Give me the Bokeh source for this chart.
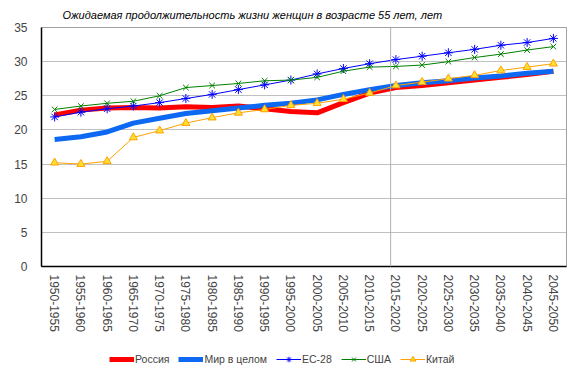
from bokeh.plotting import figure
from bokeh.layouts import column
from bokeh.models import Legend, LegendItem, Span, FixedTicker, Range1d
from bokeh.embed import file_html
from bokeh.resources import INLINE

periods = ["1950-1955", "1955-1960", "1960-1965", "1965-1970", "1970-1975",
           "1975-1980", "1980-1985", "1985-1990", "1990-1995", "1995-2000",
           "2000-2005", "2005-2010", "2010-2015", "2015-2020", "2020-2025",
           "2025-2030", "2030-2035", "2035-2040", "2040-2045", "2045-2050"]
russia = [22.2, 22.9, 23.2, 23.3, 23.2, 23.4, 23.3, 23.5, 23.1, 22.7,
          22.5, 24.0, 25.4, 26.2, 26.5, 26.9, 27.3, 27.7, 28.1, 28.6]
world = [18.6, 19.0, 19.7, 21.0, 21.7, 22.4, 22.8, 23.2, 23.6, 23.9,
         24.4, 25.2, 25.9, 26.5, 26.9, 27.2, 27.6, 27.9, 28.3, 28.6]
eu28 = [21.9, 22.6, 23.1, 23.5, 24.0, 24.6, 25.2, 25.9, 26.6, 27.3,
        28.2, 29.0, 29.7, 30.3, 30.8, 31.3, 31.8, 32.4, 32.8, 33.4]
usa = [23.0, 23.5, 23.9, 24.2, 25.0, 26.2, 26.5, 26.8, 27.2, 27.3,
       27.7, 28.6, 29.2, 29.3, 29.5, 30.0, 30.6, 31.1, 31.7, 32.2]
china = [15.2, 15.0, 15.4, 18.9, 19.9, 21.0, 21.8, 22.5, 23.0, 23.6,
         23.9, 24.5, 25.4, 26.5, 27.0, 27.5, 28.0, 28.7, 29.2, 29.7]
y_ticks = [0, 5, 10, 15, 20, 25, 30, 35]
series_names = ["Россия", "Мир в целом", "ЕС-28", "США", "Китай"]
title = "Ожидаемая продолжительность жизни женщин в возрасте 55 лет, лет"

x = list(range(len(periods)))
FONT = "Liberation Sans"
SERIES = [russia, world, eu28, usa, china]

STYLES = [
    dict(color="#ff0000", width=5, marker=None),
    dict(color="#0d68f2", width=5, marker=None),
    dict(color="#0000ff", width=1, marker="asterisk", size=9, fill=None),
    dict(color="#008000", width=1, marker="x", size=8, fill=None),
    dict(color="#ffa000", width=1, marker="triangle", size=8, fill="#ffe030"),
]

p = figure(width=580, height=342, output_backend="svg", toolbar_location=None,
           x_range=Range1d(-0.5, len(periods) - 0.5), y_range=Range1d(0, 35),
           min_border_left=41, min_border_right=14, min_border_top=27, min_border_bottom=76)

p.title.text = title
p.title.text_font = FONT
p.title.text_font_style = "italic"
p.title.text_font_size = "11px"
p.title.text_color = "#000000"
p.title.align = "left"
p.title.offset = 21
p.title.standoff = 13

p.outline_line_color = "#a0a0a0"
p.xgrid.visible = False
p.ygrid.grid_line_color = "#c0c0c0"
p.ygrid.ticker = FixedTicker(ticks=y_ticks)

p.yaxis.ticker = FixedTicker(ticks=y_ticks)
p.yaxis.major_tick_line_color = None
p.yaxis.minor_tick_line_color = None
p.yaxis.major_label_standoff = 8
p.yaxis.major_label_text_font = FONT
p.yaxis.major_label_text_font_size = "12px"
p.yaxis.axis_line_color = "#000000"
p.yaxis.axis_line_width = 1.5

p.xaxis.ticker = FixedTicker(ticks=x)
p.xaxis.major_label_overrides = {i: s for i, s in enumerate(periods)}
p.xaxis.major_label_orientation = "vertical"
p.xaxis.major_tick_line_color = None
p.xaxis.minor_tick_line_color = None
p.xaxis.major_label_standoff = 2
p.xaxis.major_label_text_font = FONT
p.xaxis.major_label_text_font_size = "12px"
p.xaxis.axis_line_color = "#000000"
p.xaxis.axis_line_width = 1.5

p.add_layout(Span(location=12.8, dimension="height", line_color="#b0b0b0", line_width=1))


def draw(fig, xs, ys, st):
    rs = [fig.line(xs, ys, line_color=st["color"], line_width=st["width"])]
    if st["marker"]:
        rs.append(fig.scatter(xs, ys, marker=st["marker"], size=st["size"],
                              line_color=st["color"], fill_color=st["fill"], line_width=1))
    return rs


for ys, st in zip(SERIES, STYLES):
    draw(p, x, ys, st)

# legend strip below the chart (series drawn out of view, used only as legend glyph sources)
lg = figure(width=580, height=34, output_backend="svg", toolbar_location=None,
            x_axis_location=None, y_axis_location=None,
            x_range=Range1d(-100, -99), y_range=Range1d(-100, -99),
            min_border_left=0, min_border_right=0, min_border_top=0, min_border_bottom=0)
lg.outline_line_color = None
lg.xgrid.visible = False
lg.ygrid.visible = False

items = []
for name, ys, st in zip(series_names, SERIES, STYLES):
    rs = draw(lg, x, ys, st)
    items.append(LegendItem(label=name, renderers=rs))

legend = Legend(items=items, orientation="horizontal", location=(68, 10))
legend.label_text_font = FONT
legend.label_text_font_size = "10.5px"
legend.glyph_width = 25
legend.glyph_height = 14
legend.label_standoff = 1
legend.spacing = 9
legend.border_line_color = None
legend.background_fill_alpha = 0
legend.padding = 0
legend.margin = 0
lg.add_layout(legend, "center")

layout = column(p, lg, spacing=0)
open("out.html", "w").write(file_html(layout, INLINE))
